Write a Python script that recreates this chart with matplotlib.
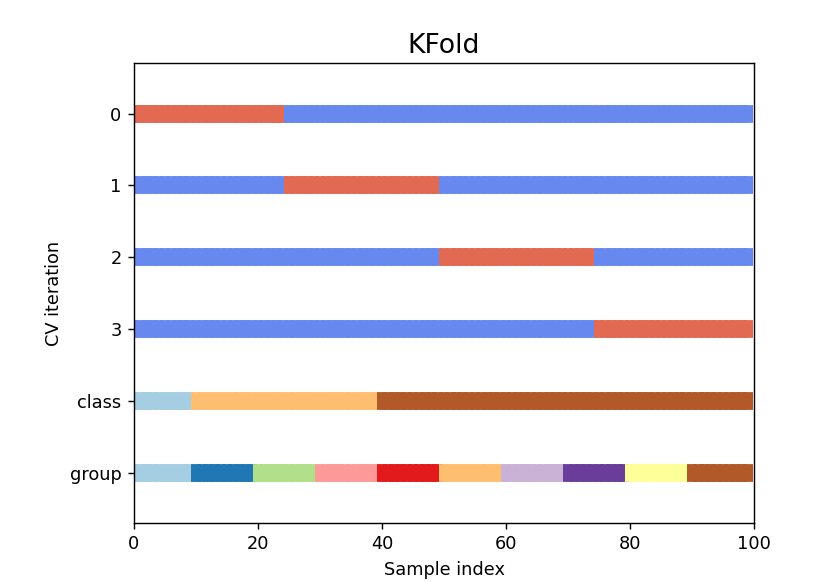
import numpy as np
import matplotlib
matplotlib.use("Agg")
import matplotlib.pyplot as plt

n_points = 100
n_splits = 4
# test fold boundaries (KFold, 4 splits)
fold_sizes = [25, 25, 25, 25]
# class sizes (10%, 30%, 60%)
class_sizes = [10, 30, 60]
# group sizes
group_sizes = [10, 10, 10, 10, 10, 10, 10, 10, 10, 10]
yticklabels = ["0", "1", "2", "3", "class", "group"]

cmap_data = plt.cm.Paired
cmap_cv = plt.cm.coolwarm
lw = 10

y = np.repeat(np.arange(len(class_sizes)), class_sizes)
groups = np.repeat(np.arange(len(group_sizes)), group_sizes)
fold_ids = np.repeat(np.arange(n_splits), fold_sizes)

fig = plt.figure(figsize=(818 / 128, 582 / 128), dpi=128)
ax = fig.add_axes([0.1638, 0.1014, 0.9218 - 0.1638, 0.8912 - 0.1014])

idx = np.arange(n_points)
for ii in range(n_splits):
    indices = (fold_ids == ii).astype(float)
    ax.scatter(idx, [ii + 0.5] * n_points, c=indices, marker="_", lw=lw,
               cmap=cmap_cv, vmin=-0.2, vmax=1.2)

ax.scatter(idx, [n_splits + 0.5] * n_points, c=y, marker="_", lw=lw, cmap=cmap_data)
ax.scatter(idx, [n_splits + 1.5] * n_points, c=groups, marker="_", lw=lw, cmap=cmap_data)

ax.set(yticks=np.arange(n_splits + 2) + 0.5, yticklabels=yticklabels,
       xlabel="Sample index", ylabel="CV iteration",
       ylim=[n_splits + 2.2, -0.2], xlim=[0, 100])
ax.set_title("KFold", fontsize=15)

fig.savefig("out.png", dpi=128)
